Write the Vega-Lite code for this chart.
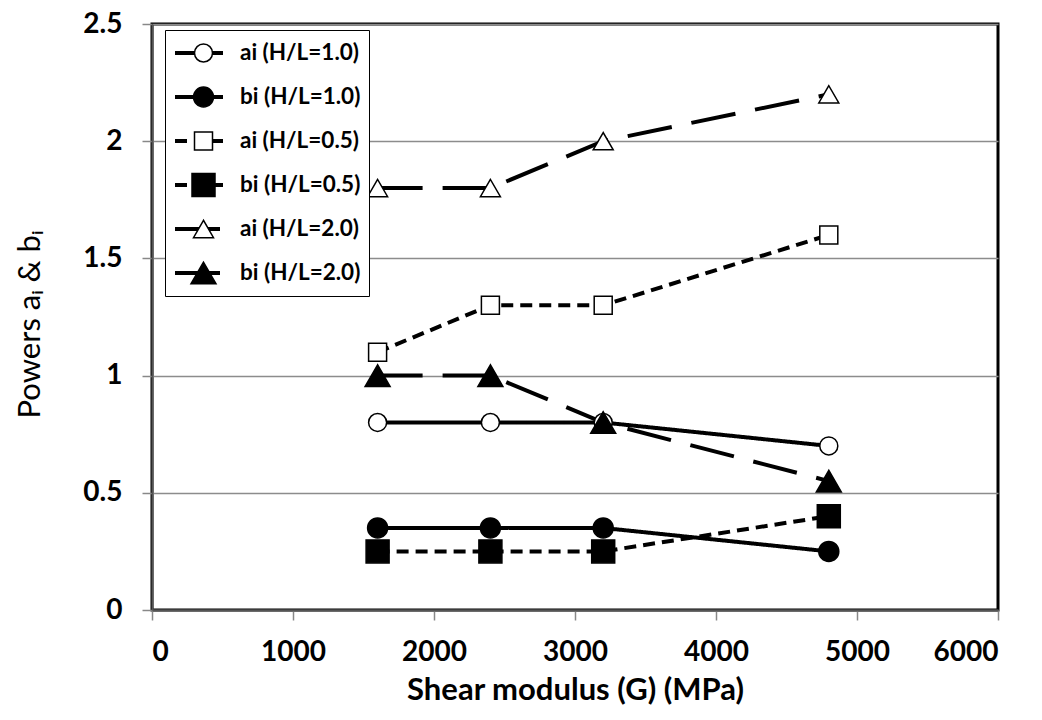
{
  "$schema": "https://vega.github.io/schema/vega-lite/v6.json",
  "autosize": "none",
  "width": 846,
  "height": 586,
  "padding": {"left": 152, "top": 24, "right": 44, "bottom": 110},
  "background": "white",
  "config": {
    "view": {"stroke": "black", "strokeWidth": 3},
    "axis": {"labelFont": "Lato", "titleFont": "Lato", "labelColor": "black", "titleColor": "black"}
  },
  "data": {
    "values": [
      {"G": 1600, "v": 0.8, "s": "ai (H/L=1.0)", "s2": "ai (H/L=1.0)"},
      {"G": 2400, "v": 0.8, "s": "ai (H/L=1.0)", "s2": "ai (H/L=1.0)"},
      {"G": 3200, "v": 0.8, "s": "ai (H/L=1.0)", "s2": "ai (H/L=1.0)"},
      {"G": 4800, "v": 0.7, "s": "ai (H/L=1.0)", "s2": "ai (H/L=1.0)"},
      {"G": 1600, "v": 0.35, "s": "bi (H/L=1.0)", "s2": "bi (H/L=1.0)"},
      {"G": 2400, "v": 0.35, "s": "bi (H/L=1.0)", "s2": "bi (H/L=1.0)"},
      {"G": 3200, "v": 0.35, "s": "bi (H/L=1.0)", "s2": "bi (H/L=1.0)"},
      {"G": 4800, "v": 0.25, "s": "bi (H/L=1.0)", "s2": "bi (H/L=1.0)"},
      {"G": 1600, "v": 1.1, "s": "ai (H/L=0.5)", "s2": "ai (H/L=0.5)"},
      {"G": 2400, "v": 1.3, "s": "ai (H/L=0.5)", "s2": "ai (H/L=0.5)"},
      {"G": 3200, "v": 1.3, "s": "ai (H/L=0.5)", "s2": "ai (H/L=0.5)"},
      {"G": 4800, "v": 1.6, "s": "ai (H/L=0.5)", "s2": "ai (H/L=0.5)"},
      {"G": 1600, "v": 0.25, "s": "bi (H/L=0.5)", "s2": "bi (H/L=0.5)"},
      {"G": 2400, "v": 0.25, "s": "bi (H/L=0.5)", "s2": "bi (H/L=0.5)"},
      {"G": 3200, "v": 0.25, "s": "bi (H/L=0.5)", "s2": "bi (H/L=0.5)"},
      {"G": 4800, "v": 0.4, "s": "bi (H/L=0.5)", "s2": "bi (H/L=0.5)"},
      {"G": 1600, "v": 1.8, "s": "ai (H/L=2.0)", "s2": "ai (H/L=2.0)"},
      {"G": 2400, "v": 1.8, "s": "ai (H/L=2.0)", "s2": "ai (H/L=2.0)"},
      {"G": 3200, "v": 2.0, "s": "ai (H/L=2.0)", "s2": "ai (H/L=2.0)"},
      {"G": 4800, "v": 2.2, "s": "ai (H/L=2.0)", "s2": "ai (H/L=2.0)"},
      {"G": 1600, "v": 1.0, "s": "bi (H/L=2.0)", "s2": "bi (H/L=2.0)"},
      {"G": 2400, "v": 1.0, "s": "bi (H/L=2.0)", "s2": "bi (H/L=2.0)"},
      {"G": 3200, "v": 0.8, "s": "bi (H/L=2.0)", "s2": "bi (H/L=2.0)"},
      {"G": 4800, "v": 0.55, "s": "bi (H/L=2.0)", "s2": "bi (H/L=2.0)"}
    ]
  },
  "encoding": {
    "x": {
      "field": "G", "type": "quantitative",
      "scale": {"domain": [0, 6000], "nice": false},
      "axis": {
        "values": [0, 1000, 2000, 3000, 4000, 5000, 6000],
        "format": "d",
        "title": "Shear modulus (G) (MPa)",
        "grid": false,
        "domainColor": "#555555", "domainWidth": 2,
        "tickColor": "#888888", "tickSize": 10, "tickWidth": 1.5,
        "labelFontSize": 28, "labelFontWeight": "bold", "labelPadding": 18,
        "titleFontSize": 31, "titleFontWeight": "bold", "titleY": 80, "titleBaseline": "middle"
      }
    },
    "y": {
      "field": "v", "type": "quantitative",
      "scale": {"domain": [0, 2.5], "nice": false},
      "axis": {
        "values": [0, 0.5, 1, 1.5, 2, 2.5],
        "format": "~g",
        "title": "Powers aᵢ & bᵢ",
        "grid": true, "gridColor": "#8c8c8c", "gridWidth": 1.5,
        "domainColor": "#555555", "domainWidth": 2,
        "tickColor": "#888888", "tickSize": 10, "tickWidth": 1.5,
        "labelFontSize": 28, "labelFontWeight": "bold", "labelPadding": 20,
        "titleFontSize": 31, "titleFontWeight": "normal", "titleX": -122, "titleY": 300, "titleAlign": "center", "titleBaseline": "middle", "titleAngle": -90
      }
    }
  },
  "layer": [
    {
      "mark": {"type": "line", "color": "black", "strokeWidth": 4},
      "encoding": {
        "strokeDash": {
          "field": "s", "type": "nominal",
          "scale": {
            "domain": ["ai (H/L=1.0)", "bi (H/L=1.0)", "ai (H/L=0.5)", "bi (H/L=0.5)", "ai (H/L=2.0)", "bi (H/L=2.0)", "unused"],
            "range": [[1, 0], [1, 0], [12, 7], [12, 7], [45, 20], [45, 20], [1, 0]]
          },
          "legend": {
            "orient": "none", "legendX": 13, "legendY": 6,
            "values": ["ai (H/L=1.0)", "bi (H/L=1.0)", "ai (H/L=0.5)", "bi (H/L=0.5)", "ai (H/L=2.0)", "bi (H/L=2.0)"],
            "title": null,
            "padding": 8, "strokeColor": "black", "fillColor": "white",
            "symbolType": "stroke", "symbolSize": 2304, "symbolStrokeWidth": 4, "symbolStrokeColor": "black",
            "clipHeight": 30, "rowPadding": 14,
            "labelFont": "Lato", "labelFontSize": 22.5, "labelFontWeight": "bold", "labelColor": "black", "labelOffset": 15
          }
        }
      }
    },
    {
      "mark": {"type": "point", "stroke": "black", "strokeWidth": 1.5, "opacity": 1},
      "encoding": {
        "shape": {
          "field": "s2", "type": "nominal",
          "scale": {
            "domain": ["ai (H/L=1.0)", "bi (H/L=1.0)", "ai (H/L=0.5)", "bi (H/L=0.5)", "ai (H/L=2.0)", "bi (H/L=2.0)"],
            "range": ["circle", "circle", "square", "square", "triangle-up", "triangle-up"]
          },
          "legend": {
            "orient": "none", "legendX": 13, "legendY": 6,
            "title": null,
            "padding": 8,
            "symbolStrokeWidth": 1.5, "symbolStrokeColor": "black",
            "clipHeight": 30, "rowPadding": 14, "symbolOffset": 17,
            "labelExpr": "''", "labelFontSize": 22
          }
        },
        "fill": {
          "field": "s2", "type": "nominal",
          "scale": {
            "domain": ["ai (H/L=1.0)", "bi (H/L=1.0)", "ai (H/L=0.5)", "bi (H/L=0.5)", "ai (H/L=2.0)", "bi (H/L=2.0)"],
            "range": ["white", "black", "white", "black", "white", "black"]
          }
        },
        "size": {
          "field": "s2", "type": "nominal",
          "scale": {
            "type": "ordinal",
            "domain": ["ai (H/L=1.0)", "bi (H/L=1.0)", "ai (H/L=0.5)", "bi (H/L=0.5)", "ai (H/L=2.0)", "bi (H/L=2.0)"],
            "range": [324, 400, 324, 529, 400, 625]
          }
        }
      }
    }
  ]
}
